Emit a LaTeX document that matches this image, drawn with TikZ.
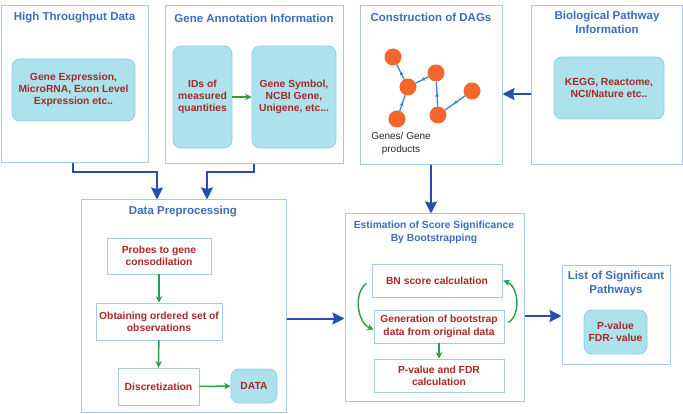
\documentclass[tikz,border=0pt]{standalone}
\usepackage{fontspec}
\setmainfont{Liberation Sans}
\usetikzlibrary{arrows.meta,decorations.markings}
\definecolor{bordc}{RGB}{165,200,235}
\definecolor{titlec}{RGB}{60,110,190}
\definecolor{redc}{RGB}{165,42,35}
\definecolor{fillc}{RGB}{172,226,236}
\definecolor{fillbord}{RGB}{145,208,228}
\definecolor{bluec}{RGB}{38,78,178}
\definecolor{greenc}{RGB}{40,160,70}
\definecolor{orangec}{RGB}{245,102,45}
\definecolor{dagblue}{RGB}{55,135,205}
\definecolor{graytext}{RGB}{40,40,40}
\begin{document}
\begin{tikzpicture}[x=1pt,y=-1pt,
  outerbox/.style={draw=bordc, line width=1pt, fill=white, inner sep=0pt},
  title/.style={text=titlec, font=\bfseries\fontsize{11.5}{14}\selectfont, align=center, inner sep=0pt},
  smalltitle/.style={text=titlec, font=\bfseries\fontsize{10.3}{13}\selectfont, align=center, inner sep=0pt},
  fillbox/.style={draw=fillbord, fill=fillc, rounded corners=8pt, line width=0.8pt, text=redc, font=\bfseries\fontsize{10.3}{12.3}\selectfont, align=center, inner sep=0pt},
  whitebox/.style={draw=bordc, fill=white, line width=0.8pt, text=redc, font=\bfseries\fontsize{10.3}{12.3}\selectfont, align=center, inner sep=0pt},
  barrow/.style={draw=bluec, line width=2pt, -{Stealth[length=12pt,width=12pt,inset=1.5pt]}},
  garrow/.style={draw=greenc, line width=1.4pt, -{Stealth[length=6.5pt,width=6.5pt]}},
  gnode/.style={circle, fill=orangec, minimum size=17pt, inner sep=0pt},
  dagedge/.style={draw=dagblue, line width=1.3pt, postaction={decorate},
    decoration={markings, mark=at position 0.55 with {\arrow{Stealth[length=4pt,width=4pt]}}}}
]
\useasboundingbox (0,0) rectangle (683,414);

% High throughput data
\node[outerbox, minimum width=147pt, minimum height=157pt] (ht) at (74.5,84.5) {};
\node[title] (htt) at (74.5,18) {High Throughput Data};
\node[fillbox, minimum width=123pt, minimum height=62pt] (ge) at (73.5,90) {Gene Expression,\\MicroRNA, Exon Level\\Expression etc..};

% Gene annotation
\node[outerbox, minimum width=178pt, minimum height=158pt] (ga) at (254,85) {};
\node[title] (gat) at (254,18) {Gene Annotation Information};
\node[fillbox, minimum width=59pt, minimum height=102pt] (ids) at (202.5,97) {IDs of\\measured\\quantities};
\node[fillbox, minimum width=84pt, minimum height=102pt] (gs) at (294,97) {Gene Symbol,\\NCBI Gene,\\Unigene, etc...};
\draw[garrow] (ids) -- (gs);

% DAGs
\node[outerbox, minimum width=142pt, minimum height=159pt] (dag) at (431,85.5) {};
\node[title] (dagt) at (431,17) {Construction of DAGs};
\node[gnode] (na) at (393,57) {};
\node[gnode] (nb) at (408,87) {};
\node[gnode] (nc) at (436,73) {};
\node[gnode] (nd) at (472,91) {};
\node[gnode] (ne) at (438,115) {};
\node[gnode] (nf) at (397,119) {};
\draw[dagedge] (nb) -- (na);
\draw[dagedge] (nc) -- (nb);
\draw[dagedge] (nf) -- (nb);
\draw[dagedge] (ne) -- (nc);
\draw[dagedge] (nd) -- (ne);
\node[font=\fontsize{10}{13}\selectfont, text=graytext, align=center, inner sep=0pt] (gl) at (401,143.5) {Genes/ Gene\\products};

% Biological pathway
\node[outerbox, minimum width=151pt, minimum height=159pt] (bio) at (606.5,85.5) {};
\node[title] (biot) at (607,22) {Biological Pathway\\Information};
\node[fillbox, minimum width=110pt, minimum height=62pt] (kegg) at (609,88) {KEGG, Reactome,\\NCI/Nature etc..};
\coordinate (bioo) at ([yshift=-8.5pt]bio.west);
\draw[barrow] (bioo) -- (bioo -| dag.east);

% Data preprocessing
\node[outerbox, minimum width=205pt, minimum height=212pt] (dp) at (183.5,306) {};
\node[title] (dpt) at (183,212) {Data Preprocessing};
\node[whitebox, minimum width=104pt, minimum height=36pt] (probes) at (159,256) {Probes to gene\\consodilation};
\node[whitebox, minimum width=126pt, minimum height=37pt] (obt) at (159,321.5) {Obtaining ordered set of\\observations};
\node[whitebox, minimum width=81pt, minimum height=37pt] (disc) at (158.5,386.5) {Discretization};
\node[fillbox, minimum width=46pt, minimum height=34pt] (data) at (254,386) {DATA};
\draw[garrow] (probes) -- (obt);
\draw[garrow] (obt) -- (disc);
\draw[garrow] (disc) -- (data);

\draw[barrow] ([xshift=-1.5pt]ht.south) -- ++(0,9) -| ([xshift=-26.5pt]dp.north);
\draw[barrow] (ga.south) -- ++(0,8) -| ([xshift=23.5pt]dp.north);

% Estimation
\node[outerbox, minimum width=179pt, minimum height=187pt] (est) at (434.5,307.5) {};
\node[smalltitle] (estt) at (434,232.5) {Estimation of Score Significance\\By Bootstrapping};
\node[whitebox, minimum width=130pt, minimum height=33pt] (bn) at (437,280.5) {BN score calculation};
\node[whitebox, minimum width=130pt, minimum height=33pt] (gen) at (439,326.5) {Generation of bootstrap\\data from original data};
\node[whitebox, minimum width=130pt, minimum height=33pt] (pf) at (439,375.5) {P-value and FDR\\calculation};
\draw[garrow] (gen) -- (pf);
\draw[garrow] ([xshift=-5pt,yshift=-3pt]bn.west) .. controls +(-13,8) and +(-17,-7) .. ([yshift=-3pt]gen.west);
\draw[garrow] ([xshift=4pt,yshift=4pt]gen.east) .. controls +(13,-8) and +(15,6) .. ([xshift=1pt]bn.east);

\coordinate (dago) at (dag.south);
\draw[barrow] (dago) -- (dago |- est.north);
\coordinate (dpo) at ([yshift=-12.5pt]dp.east);
\draw[barrow] (dpo) -- (dpo -| est.west);

% List of significant pathways
\node[outerbox, minimum width=108pt, minimum height=98pt] (lst) at (616,315) {};
\node[title] (lstt) at (616,284) {List of Significant\\Pathways};
\node[fillbox, minimum width=63pt, minimum height=44pt] (pv) at (615.5,332) {P-value\\FDR- value};
\coordinate (esto) at ([yshift=-8.5pt]est.east);
\draw[barrow] (esto) -- (esto -| lst.west);

\end{tikzpicture}
\end{document}
